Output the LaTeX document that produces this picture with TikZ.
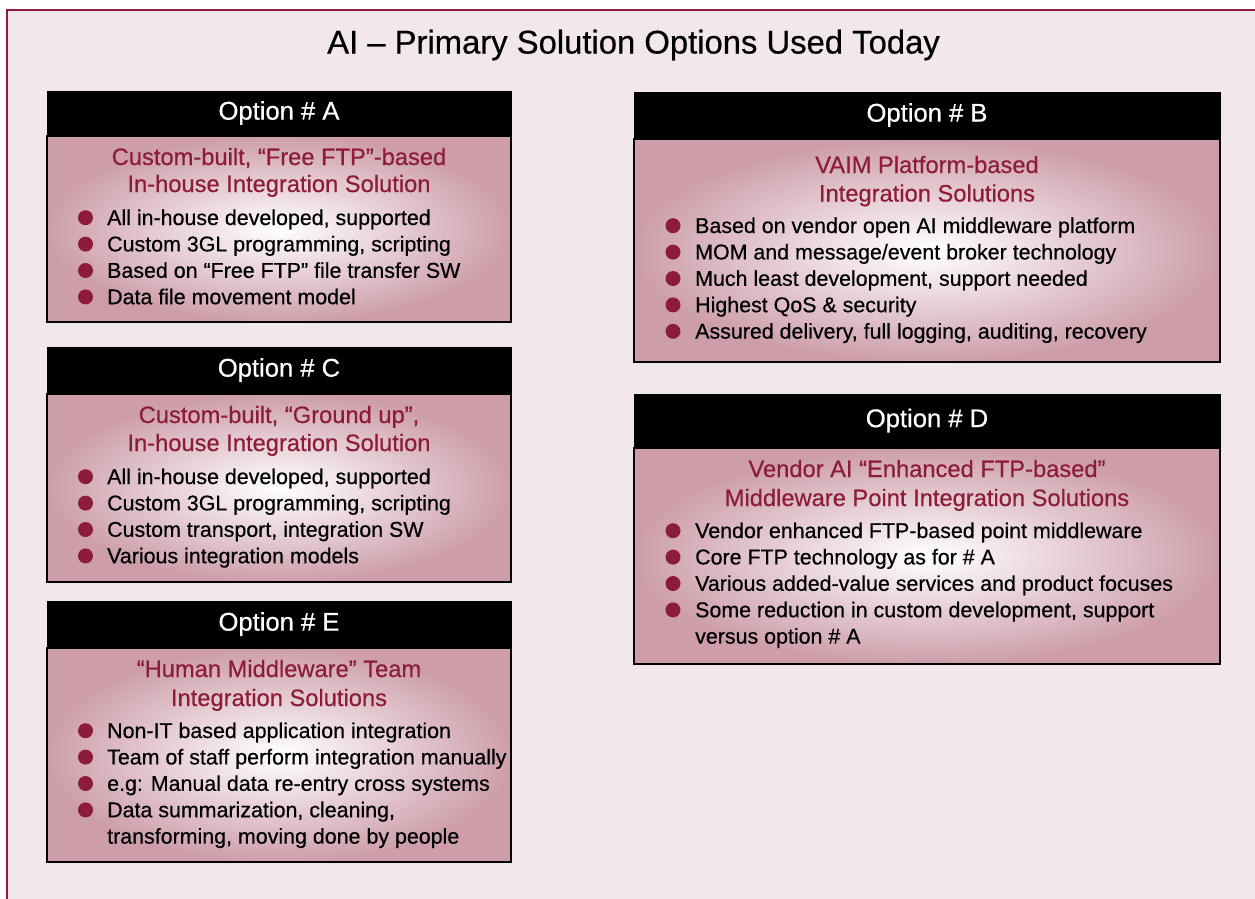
\documentclass[tikz,border=0pt]{standalone}
\usepackage{fontspec}
\setmainfont{Liberation Sans}[FakeBold=0.5]
\usetikzlibrary{positioning}

\definecolor{aimaroon}{RGB}{140,28,58}
\definecolor{aibg}{RGB}{242,231,233}
\definecolor{aipink}{RGB}{205,158,170}

\tikzset{
  opthead/.style={draw=black, fill=black, text=white, inner sep=0pt,
    font=\fontsize{25.6}{28}\selectfont},
  optbody/.style={draw=black, line width=1.8pt, inner color=white, outer color=aipink, inner sep=0pt},
  subtitle/.style={anchor=base, inner sep=0pt, text=aimaroon, font=\fontsize{23.7}{27}\selectfont},
  itemtext/.style={anchor=base west, inner sep=0pt, font=\fontsize{21.4}{26}\selectfont},
  itemdot/.style={fill=aimaroon}
}

\begin{document}
\begin{tikzpicture}[x=1pt, y=-1pt]
\useasboundingbox (0,0) rectangle (1255,898);
\draw[aimaroon, line width=2pt, fill=aibg] (7,10) rectangle (1300,950);

\node[anchor=base, inner sep=0pt, font=\fontsize{32.8}{36}\selectfont] (title) at (633.5,53.5) {AI – Primary Solution Options Used Today};

% option A
\node[opthead, minimum width=464pt, minimum height=44pt] (hdA) at (279,113) {Option \# A};
\node[optbody, minimum width=464pt, minimum height=186pt, below=0pt of hdA] (bdA) {};
\node[subtitle] (stA1) at (279,165) {Custom-built, “Free FTP”-based};
\node[subtitle] (stA2) at (279,192) {In-house Integration Solution};
\foreach \d/\t [count=\i] in {1/{All in-house developed, supported},1/{Custom 3GL programming, scripting},1/{Based on “Free FTP” file transfer SW},1/{Data file movement model}}{
  \ifnum\d=1 \fill[itemdot] (85.5,{225+26.4*(\i-1)-7.3}) circle (7.5pt); \fi
  \node[itemtext] (itA\i) at (107,{225+26.4*(\i-1)}) {\t};
}

% option B
\node[opthead, minimum width=586pt, minimum height=46pt] (hdB) at (927,115) {Option \# B};
\node[optbody, minimum width=586pt, minimum height=223pt, below=0pt of hdB] (bdB) {};
\node[subtitle] (stB1) at (927,173) {VAIM Platform-based};
\node[subtitle] (stB2) at (927,201.5) {Integration Solutions};
\foreach \d/\t [count=\i] in {1/{Based on vendor open AI middleware platform},1/{MOM and message/event broker technology},1/{Much least development, support needed},1/{Highest QoS \& security},1/{Assured delivery, full logging, auditing, recovery}}{
  \ifnum\d=1 \fill[itemdot] (673,{233+26.4*(\i-1)-7.3}) circle (7.5pt); \fi
  \node[itemtext] (itB\i) at (695,{233+26.4*(\i-1)}) {\t};
}

% option C
\node[opthead, minimum width=464pt, minimum height=46pt] (hdC) at (279,370) {Option \# C};
\node[optbody, minimum width=464pt, minimum height=188pt, below=0pt of hdC] (bdC) {};
\node[subtitle] (stC1) at (279,423) {Custom-built, “Ground up”,};
\node[subtitle] (stC2) at (279,451) {In-house Integration Solution};
\foreach \d/\t [count=\i] in {1/{All in-house developed, supported},1/{Custom 3GL programming, scripting},1/{Custom transport, integration SW},1/{Various integration models}}{
  \ifnum\d=1 \fill[itemdot] (85.5,{484+26.4*(\i-1)-7.3}) circle (7.5pt); \fi
  \node[itemtext] (itC\i) at (107,{484+26.4*(\i-1)}) {\t};
}

% option D
\node[opthead, minimum width=586pt, minimum height=53pt] (hdD) at (927,420.5) {Option \# D};
\node[optbody, minimum width=586pt, minimum height=216pt, below=0pt of hdD] (bdD) {};
\node[subtitle] (stD1) at (927,477) {Vendor AI “Enhanced FTP-based”};
\node[subtitle] (stD2) at (927,506) {Middleware Point Integration Solutions};
\foreach \d/\t [count=\i] in {1/{Vendor enhanced FTP-based point middleware},1/{Core FTP technology as for \# A},1/{Various added-value services and product focuses},1/{Some reduction in custom development, support},0/{versus option \# A}}{
  \ifnum\d=1 \fill[itemdot] (673,{538+26.4*(\i-1)-7.3}) circle (7.5pt); \fi
  \node[itemtext] (itD\i) at (695,{538+26.4*(\i-1)}) {\t};
}

% option E
\node[opthead, minimum width=464pt, minimum height=46pt] (hdE) at (279,624) {Option \# E};
\node[optbody, minimum width=464pt, minimum height=214pt, below=0pt of hdE] (bdE) {};
\node[subtitle] (stE1) at (279,677) {“Human Middleware” Team};
\node[subtitle] (stE2) at (279,706) {Integration Solutions};
\foreach \d/\t [count=\i] in {1/{Non-IT based application integration},1/{Team of staff perform integration manually},1/{e.g: Manual data re-entry cross systems},1/{Data summarization, cleaning,},0/{transforming, moving done by people}}{
  \ifnum\d=1 \fill[itemdot] (85.5,{738+26.4*(\i-1)-7.3}) circle (7.5pt); \fi
  \node[itemtext] (itE\i) at (107,{738+26.4*(\i-1)}) {\t};
}
\end{tikzpicture}
\end{document}
